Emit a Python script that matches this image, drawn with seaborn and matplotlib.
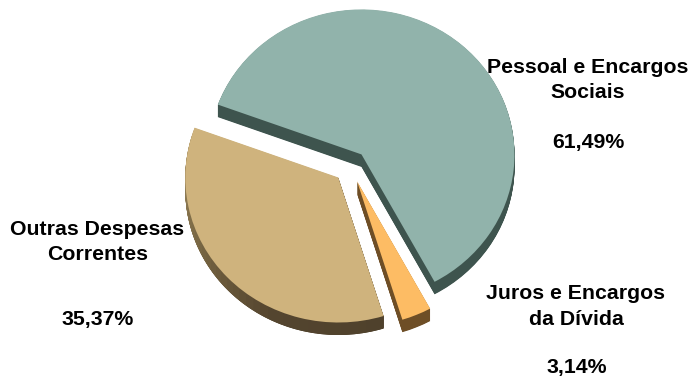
import matplotlib
matplotlib.use("Agg")
import matplotlib.pyplot as plt
from matplotlib.patches import Wedge
import numpy as np
import seaborn as sns

# Budget shares, in percent, clockwise around the pie
categories = ["Pessoal e Encargos\nSociais", "Juros e Encargos\nda Dívida", "Outras Despesas\nCorrentes"]
shares = [61.49, 3.14, 35.37]
face_colors = ["#91B3AB", "#FDBC64", "#CFB37D"]
side_colors = ["#3E544E", "#6E4E26", "#54452F"]

WIDTH, HEIGHT = 690, 376
RX, RY = 153.0, 145.0     # pixels per pie radius, horizontally and vertically
DEPTH_PX = 12.5
STEP_PX = 0.5

sns.set_theme(style="white")
plt.rcParams["font.family"] = ["Liberation Sans", "DejaVu Sans"]

fig = plt.figure(figsize=(WIDTH / 100, HEIGHT / 100), dpi=100, facecolor="white")
ax = fig.add_axes([0, 0, 1, 1])


def px(x, y):
    """Pixel position (origin top left) to data units."""
    return x / RX, (HEIGHT - y) / RY


center = px(350.5, 166.5)
explode = [0.11, 0.11, 0.11]
pie_args = dict(explode=explode, radius=1.0, startangle=159.9, counterclock=False,
                wedgeprops=dict(linewidth=0))

# Extruded rim: the same pie repeated downwards, deepest layer first
tan_rim = sns.blend_palette(["#A08C62", "#7A6844", "#54452F", "#4F412C"], n_colors=40)
for depth in np.arange(DEPTH_PX, 0, -STEP_PX):
    shifted = (center[0], center[1] - depth / RY)
    wedges, _ = ax.pie(shares, colors=side_colors, center=shifted, **pie_args)
    # The rim of the tan slice darkens as it turns towards the bottom
    tan = wedges[2]
    tan.set_visible(False)
    edges = np.linspace(tan.theta1, tan.theta2, len(tan_rim) + 1)
    for i, color in enumerate(tan_rim):
        ax.add_patch(Wedge(tan.center, tan.r, edges[i], edges[min(i + 2, len(tan_rim))],
                           facecolor=color, linewidth=0))

ax.pie(shares, colors=face_colors, center=center, **pie_args)

# Labels: category name, and the share set apart below it
name_positions = [(588, 80), (576, 306.5), (97.5, 242)]
value_positions = [(588.5, 143), (577, 367.5), (98, 319.5)]
for name, share, (nx, ny), (vx, vy) in zip(categories, shares, name_positions, value_positions):
    tx, ty = px(nx, ny)
    ax.text(tx, ty, name, ha="center", va="center", fontsize=15.3, fontweight="bold",
            color="black", linespacing=1.45, multialignment="center")
    tx, ty = px(vx, vy)
    ax.text(tx, ty, f"{share:.2f}%".replace(".", ","), ha="center", va="center",
            fontsize=15.3, fontweight="bold", color="black")

ax.set_xlim(0, WIDTH / RX)
ax.set_ylim(0, HEIGHT / RY)
ax.set_aspect("auto")
ax.axis("off")

fig.savefig("out.png", dpi=100, facecolor="white")
